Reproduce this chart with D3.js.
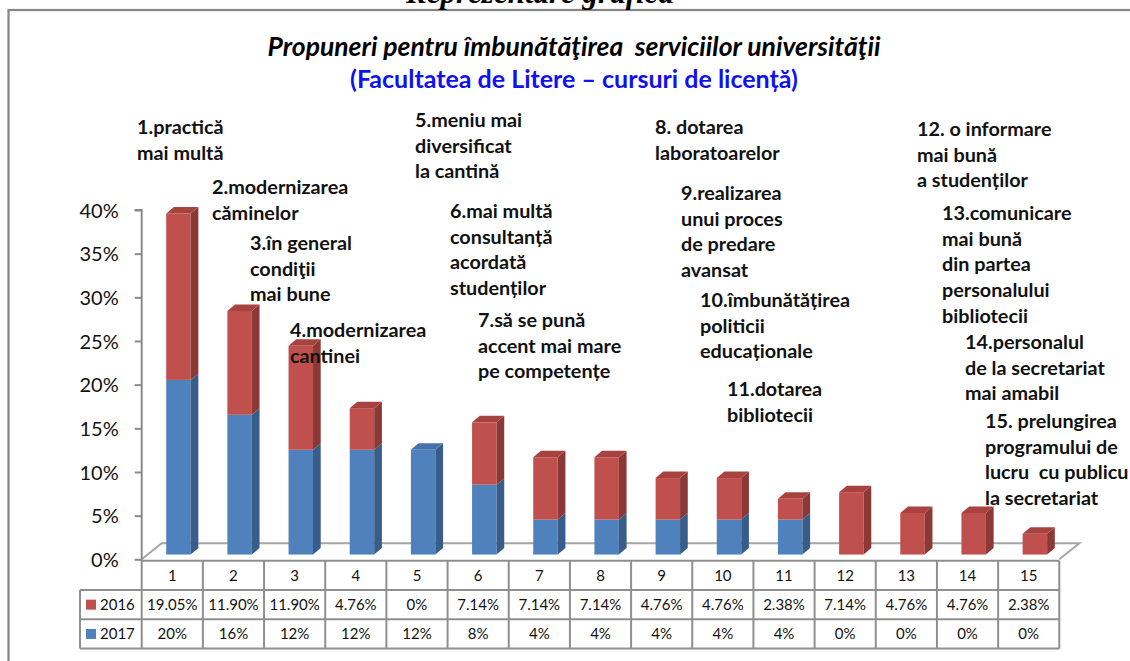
<!DOCTYPE html>
<html>
<head>
<meta charset="utf-8">
<script src="https://cdn.jsdelivr.net/npm/d3@7"></script>
<style>
  body { margin: 0; background: #fff; }
  text { font-family: Lato, "Open Sans", sans-serif; }
</style>
</head>
<body>
<div id="chart"></div>
<script>

// data (percentages)
var categories = ["1", "2", "3", "4", "5", "6", "7", "8", "9", "10", "11", "12", "13", "14", "15"];
var values2016 = [19.05, 11.90, 11.90, 4.76, 0, 7.14, 7.14, 7.14, 4.76, 4.76, 2.38, 7.14, 4.76, 4.76, 2.38];
var values2017 = [20, 16, 12, 12, 12, 8, 4, 4, 4, 4, 4, 0, 0, 0, 0];
var seriesNames = ["2016", "2017"];
var yTicks = [0, 5, 10, 15, 20, 25, 30, 35, 40];

// text of the proposals written over the chart
var proposals = [
  ["1.practică", "mai multă"],
  ["2.modernizarea", "căminelor"],
  ["3.în general", "condiţii", "mai bune"],
  ["4.modernizarea", "cantinei"],
  ["5.meniu mai", "diversificat", "la cantină"],
  ["6.mai multă", "consultanță", "acordată", "studenților"],
  ["7.să se pună", "accent mai mare", "pe competențe"],
  ["8. dotarea", "laboratoarelor"],
  ["9.realizarea", "unui proces", "de predare", "avansat"],
  ["10.îmbunătățirea", "politicii", "educaționale"],
  ["11.dotarea", "bibliotecii"],
  ["12. o informare", "mai bună", "a studenților"],
  ["13.comunicare", "mai bună", "din partea", "personalului", "bibliotecii"],
  ["14.personalul", "de la secretariat", "mai amabil"],
  ["15. prelungirea", "programului de", "lucru  cu publicu", "la secretariat"]
];

// where each proposal block starts (left x, first baseline)
var proposalPos = [
  [137, 134], [212, 194], [250, 250], [290, 337], [415, 127],
  [450, 218], [478, 327], [655, 134], [681, 200], [700, 307],
  [727, 396], [917, 136], [942, 220], [965, 349], [985, 428]
];

var width = 1130, height = 661;

var svg = d3.select("#chart")
  .append("svg")
    .attr("width", width)
    .attr("height", height);

// outer frame
svg.append("rect")
  .attr("x", 8.5)
  .attr("y", 10)
  .attr("width", 1140)
  .attr("height", 700)
  .style("fill", "none")
  .style("stroke", "#858585")
  .style("stroke-width", 2.2);

// heading of the page, cut off at the top as in the source
svg.append("text")
  .attr("x", 540)
  .attr("y", 3)
  .style("text-anchor", "middle")
  .style("font-family", "'Liberation Serif', serif")
  .style("font-weight", "bold")
  .style("font-style", "italic")
  .style("font-size", "31px")
  .text("Reprezentare grafică");

// chart titles
svg.append("text")
  .attr("x", 574)
  .attr("y", 56)
  .style("text-anchor", "middle")
  .style("font-weight", "bold")
  .style("font-style", "italic")
  .style("font-size", "26.5px")
  .style("white-space", "pre")
  .text("Propuneri pentru îmbunătăţirea  serviciilor universităţii");

svg.append("text")
  .attr("x", 574)
  .attr("y", 88)
  .style("text-anchor", "middle")
  .style("font-weight", "bold")
  .style("font-size", "25px")
  .style("fill", "#1010f5")
  .text("(Facultatea de Litere – cursuri de licență)");

// plot geometry
var left = 141.7, right = 1059.3, floorY = 559.3;
var depth = {dx: 20, dy: -16};
var barDepth = {dx: 7.7, dy: -6.5};
var shift = {dx: (depth.dx - barDepth.dx) / 2, dy: (depth.dy - barDepth.dy) / 2};

var x = d3.scaleBand()
  .domain(categories)
  .range([left, right])
  .paddingInner(0)
  .paddingOuter(0);

var y = d3.scaleLinear()
  .domain([0, 40])
  .range([floorY, 210]);

var barWidth = x.bandwidth() / 2.5;

// floor of the 3d chart
svg.append("path")
  .attr("d", "M" + left + "," + floorY +
    "L" + (left + depth.dx) + "," + (floorY + depth.dy) +
    "L" + (right + depth.dx) + "," + (floorY + depth.dy) +
    "L" + right + "," + floorY)
  .style("fill", "none")
  .style("stroke", "#a6a6a6")
  .style("stroke-width", 2);

// y axis
var yAxis = d3.axisLeft(y)
  .tickValues(yTicks)
  .tickSize(7)
  .tickFormat(function(d) { return d + "%"; });

var axisG = svg.append("g")
  .attr("class", "y axis")
  .attr("transform", "translate(" + left + ",0)")
  .call(yAxis);

axisG.select(".domain")
  .attr("d", "M-7," + y(40) + "H0V" + floorY)
  .style("stroke", "#8a8a8a")
  .style("stroke-width", 2);
axisG.selectAll(".tick line")
  .style("stroke", "#8a8a8a")
  .style("stroke-width", 2);
axisG.selectAll(".tick text")
  .attr("x", -23)
  .attr("dy", "0.36em")
  .style("font-family", "Lato, sans-serif")
  .style("font-size", "20px")
  .style("fill", "#111");

// build the stacked segments: 2017 at the bottom, 2016 on top
var segments = [];
categories.forEach(function(c, i) {
  var base = values2017[i];
  var total = values2017[i] + values2016[i];
  if (values2017[i] > 0) {
    segments.push({cat: c, y0: 0, y1: base, top: values2016[i] === 0, front: "#4f81bd", side: "#385d8a", lid: "#4573aa"});
  }
  if (values2016[i] > 0) {
    segments.push({cat: c, y0: base, y1: total, top: true, front: "#c0504d", side: "#8c3836", lid: "#a8423f"});
  }
});

var bars = svg.append("g").attr("class", "bars");

segments.forEach(function(s) {
  var x0 = x(s.cat) + (x.bandwidth() - barWidth) / 2 + shift.dx;
  var x1 = x0 + barWidth;
  var yb = y(s.y0) + shift.dy;
  var yt = y(s.y1) + shift.dy;

  // front face
  bars.append("rect")
    .attr("x", x0)
    .attr("y", yt)
    .attr("width", barWidth)
    .attr("height", yb - yt)
    .style("fill", s.front);

  // right side
  bars.append("path")
    .attr("d", "M" + x1 + "," + yb +
      "L" + (x1 + barDepth.dx) + "," + (yb + barDepth.dy) +
      "L" + (x1 + barDepth.dx) + "," + (yt + barDepth.dy) +
      "L" + x1 + "," + yt + "Z")
    .style("fill", s.side);

  // top
  if (s.top) {
    bars.append("path")
      .attr("d", "M" + x0 + "," + yt +
        "L" + (x0 + barDepth.dx) + "," + (yt + barDepth.dy) +
        "L" + (x1 + barDepth.dx) + "," + (yt + barDepth.dy) +
        "L" + x1 + "," + yt + "Z")
      .style("fill", s.lid);
  }
});

// data table under the chart
var rowH = 29.3;
var tableTop = floorY + 1.4;
var headLeft = 80;
var table = svg.append("g").attr("class", "table");
var lineColor = "#8f8f8f";

// horizontal lines
[tableTop + rowH, tableTop + 2 * rowH, tableTop + 3 * rowH].forEach(function(ly) {
  table.append("line")
    .attr("x1", headLeft).attr("x2", right)
    .attr("y1", ly).attr("y2", ly)
    .style("stroke", lineColor).style("stroke-width", 2);
});
table.append("line")
  .attr("x1", left).attr("x2", right)
  .attr("y1", tableTop).attr("y2", tableTop)
  .style("stroke", lineColor).style("stroke-width", 2);

// vertical lines
table.append("line")
  .attr("x1", headLeft).attr("x2", headLeft)
  .attr("y1", tableTop + rowH).attr("y2", tableTop + 3 * rowH)
  .style("stroke", lineColor).style("stroke-width", 2);
categories.concat(["end"]).forEach(function(c, i) {
  var lx = i < categories.length ? x(c) : right;
  table.append("line")
    .attr("x1", lx).attr("x2", lx)
    .attr("y1", i === 0 ? y(0) : tableTop).attr("y2", tableTop + 3 * rowH)
    .style("stroke", lineColor).style("stroke-width", 2);
});

var fmt2016 = function(v) { return v === 0 ? "0%" : d3.format(".2f")(v) + "%"; };
var fmt2017 = function(v) { return v + "%"; };

function cellText(cx, row, txt) {
  table.append("text")
    .attr("x", cx)
    .attr("y", tableTop + row * rowH + rowH / 2)
    .attr("dy", "0.36em")
    .style("text-anchor", "middle")
    .style("font-size", "15px")
    .style("fill", "#111")
    .text(txt);
}

categories.forEach(function(c, i) {
  var cx = x(c) + x.bandwidth() / 2;
  cellText(cx, 0, c);
  cellText(cx, 1, fmt2016(values2016[i]));
  cellText(cx, 2, fmt2017(values2017[i]));
});

// legend keys in the row headers
seriesNames.forEach(function(name, i) {
  var ry = tableTop + (i + 1) * rowH + rowH / 2;
  table.append("rect")
    .attr("x", 86)
    .attr("y", ry - 5)
    .attr("width", 10)
    .attr("height", 10)
    .style("fill", i === 0 ? "#c0504d" : "#4f81bd");
  table.append("text")
    .attr("x", 100)
    .attr("y", ry)
    .attr("dy", "0.36em")
    .style("font-size", "15px")
    .style("fill", "#111")
    .text(name);
});

// proposals as text blocks
var notes = svg.append("g").attr("class", "notes");
proposals.forEach(function(lines, i) {
  var t = notes.append("text")
    .attr("x", proposalPos[i][0])
    .attr("y", proposalPos[i][1])
    .style("font-weight", "bold")
    .style("font-size", "19.8px")
    .style("white-space", "pre")
    .style("fill", "#111");
  lines.forEach(function(line, j) {
    t.append("tspan")
      .attr("x", proposalPos[i][0])
      .attr("dy", j === 0 ? 0 : 25.7)
      .text(line);
  });
});

</script>
</body>
</html>
